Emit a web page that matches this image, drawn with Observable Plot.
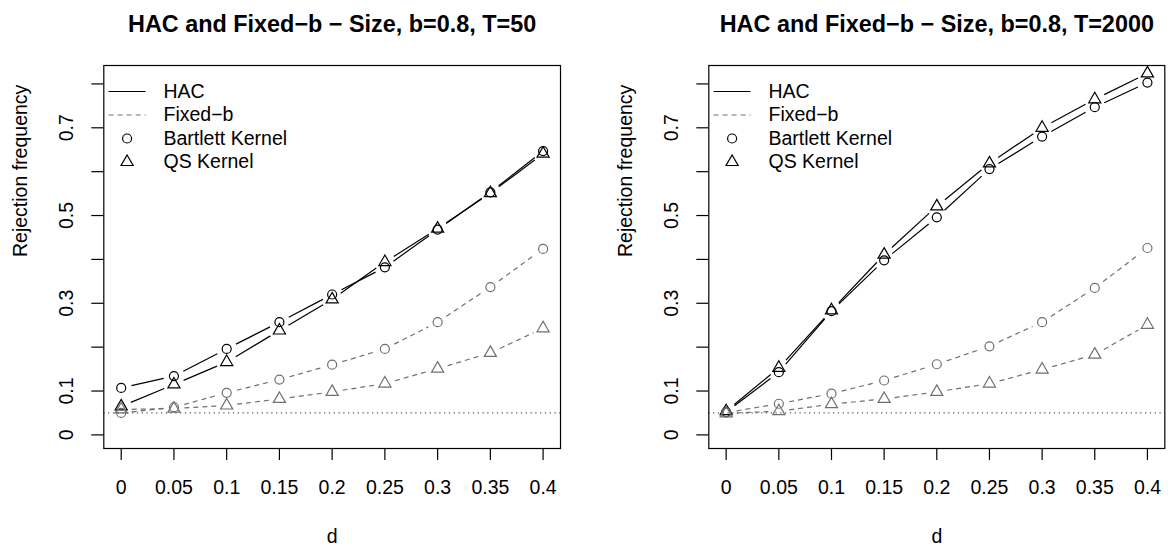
<!DOCTYPE html>
<html>
<head>
<meta charset="utf-8">
<script src="https://cdn.jsdelivr.net/npm/d3@7"></script>
<script src="https://cdn.jsdelivr.net/npm/@observablehq/plot@0.6"></script>
<style>
  html, body { margin: 0; padding: 0; background: #fff; overflow: hidden; }
  #wrap { position: relative; width: 1168px; height: 545px; }
  .panel { position: absolute; top: 0; }
</style>
</head>
<body>
<div id="wrap"></div>
<script>
// ---- Data ----
const dValues = [0, 0.05, 0.1, 0.15, 0.2, 0.25, 0.3, 0.35, 0.4];

// T = 50
const hacBartlett50   = [0.107, 0.134, 0.196, 0.257, 0.320, 0.382, 0.468, 0.553, 0.647];
const hacQS50         = [0.065, 0.115, 0.166, 0.238, 0.309, 0.394, 0.470, 0.551, 0.641];
const fixedBartlett50 = [0.050, 0.063, 0.096, 0.126, 0.160, 0.196, 0.257, 0.337, 0.424];
const fixedQS50       = [0.058, 0.060, 0.067, 0.082, 0.098, 0.117, 0.151, 0.187, 0.243];

// T = 2000
const hacBartlett2000   = [0.052, 0.143, 0.282, 0.398, 0.496, 0.606, 0.680, 0.747, 0.803];
const hacQS2000         = [0.054, 0.153, 0.284, 0.411, 0.521, 0.619, 0.700, 0.765, 0.824];
const fixedBartlett2000 = [0.051, 0.071, 0.094, 0.124, 0.161, 0.202, 0.257, 0.335, 0.426];
const fixedQS2000       = [0.049, 0.054, 0.070, 0.082, 0.098, 0.117, 0.149, 0.183, 0.251];

const nominalLevel = [0.05];

const xTicks = [0, 0.05, 0.1, 0.15, 0.2, 0.25, 0.3, 0.35, 0.4];
const yTicks = [0, 0.1, 0.2, 0.3, 0.4, 0.5, 0.6, 0.7, 0.8];
const yTickLabels = [0, 0.1, 0.3, 0.5, 0.7];

const titles = [
  "HAC and Fixed\u2212b \u2212 Size, b=0.8, T=50",
  "HAC and Fixed\u2212b \u2212 Size, b=0.8, T=2000"
];
const xLabel = "d";
const yLabel = "Rejection frequency";
const legendLabels = ["HAC", "Fixed\u2212b", "Bartlett Kernel", "QS Kernel"];

// ---- Styling ----
const FONT = '"Liberation Sans", Arial, Helvetica, sans-serif';
const FS = 19.5;
const hacColor = "#000000";
const fixedColor = "#6f6f6f";
const dash = "5,4";

const lineSymbol = { draw(ctx) { ctx.moveTo(-18.5, 0); ctx.lineTo(18.5, 0); } };

function makePanel(title, hacB, hacQ, fixB, fixQ, width, marginRight) {
  const series = [
    { values: hacB, symbol: "circle",   color: hacColor,   dash: undefined },
    { values: hacQ, symbol: "triangle", color: hacColor,   dash: undefined },
    { values: fixB, symbol: "circle",   color: fixedColor, dash: dash },
    { values: fixQ, symbol: "triangle", color: fixedColor, dash: dash }
  ];
  const marks = [];
  for (const s of series) {
    const pts = dValues.map((d, i) => ({ d, v: s.values[i] }));
    const segs = pts.slice(1).map((p, i) => ({ x1: pts[i].d, y1: pts[i].v, x2: p.d, y2: p.v }));
    marks.push(Plot.arrow(segs, {
      x1: "x1", y1: "y1", x2: "x2", y2: "y2",
      bend: 0, headLength: 0, insetStart: 10.5, insetEnd: 10.5,
      stroke: s.color, strokeWidth: 1.2, strokeDasharray: s.dash, strokeLinecap: "butt"
    }));
    marks.push(Plot.dot(pts, {
      x: "d", y: "v", symbol: s.symbol, r: 4.5,
      stroke: s.color, strokeWidth: 1.2, fill: "none"
    }));
  }
  marks.push(Plot.ruleY(nominalLevel, { stroke: "#555", strokeWidth: 1.2, strokeDasharray: "1.2,3.6" }));

  // legend
  const rowDy = [26, 49.5, 73, 96.5];
  const legendSpecs = [
    { symbol: lineSymbol, color: hacColor, dash: undefined },
    { symbol: lineSymbol, color: fixedColor, dash: dash },
    { symbol: "circle", color: hacColor, dash: undefined },
    { symbol: "triangle", color: hacColor, dash: undefined }
  ];
  legendSpecs.forEach((s, i) => {
    marks.push(Plot.dot([legendLabels[i]], {
      frameAnchor: "top-left", dx: 23.3, dy: rowDy[i], symbol: s.symbol, r: 4.5,
      stroke: s.color, strokeWidth: 1.2, fill: "none", strokeDasharray: s.dash
    }));
    marks.push(Plot.text([legendLabels[i]], {
      frameAnchor: "top-left", dx: 59.7, dy: rowDy[i], text: d => d,
      textAnchor: "start", lineAnchor: "middle", fontSize: FS, fill: "black"
    }));
  });

  marks.push(Plot.frame({ stroke: "black", strokeWidth: 1.2 }));
  marks.push(Plot.axisX({
    ticks: xTicks, tickSize: 12, tickPadding: 20, strokeWidth: 1.2,
    tickFormat: d => String(d), label: null, fontSize: FS
  }));
  marks.push(Plot.axisY({
    ticks: yTicks, tickSize: 12, tickPadding: 19, strokeWidth: 1.2,
    tickRotate: -90, textAnchor: "middle", lineAnchor: "bottom",
    tickFormat: d => (yTickLabels.includes(d) ? String(d) : ""), label: null, fontSize: FS
  }));
  marks.push(Plot.text([title], {
    frameAnchor: "top", dy: -34, text: d => d, lineAnchor: "bottom",
    fontSize: 23.4, fontWeight: "bold", fill: "black"
  }));
  marks.push(Plot.text([xLabel], {
    frameAnchor: "bottom", dy: 94, text: d => d, lineAnchor: "bottom", fontSize: FS, fill: "black"
  }));
  marks.push(Plot.text([yLabel], {
    frameAnchor: "left", dx: -77, rotate: -90, text: d => d, lineAnchor: "bottom", fontSize: FS, fill: "black"
  }));

  return Plot.plot({
    width, height: 545,
    marginLeft: 103.3, marginRight, marginTop: 65, marginBottom: 97,
    x: { domain: [-0.0165, 0.4165] },
    y: { domain: [-0.031, 0.842] },
    style: { fontFamily: FONT, fontSize: FS + "px", background: "white", color: "black" },
    marks
  });
}

const wrap = document.getElementById("wrap");
const left = document.createElement("div");
left.className = "panel"; left.style.left = "0px";
left.appendChild(makePanel(titles[0], hacBartlett50, hacQS50, fixedBartlett50, fixedQS50, 584, 24));
const right = document.createElement("div");
right.className = "panel"; right.style.left = "605px";
right.appendChild(makePanel(titles[1], hacBartlett2000, hacQS2000, fixedBartlett2000, fixedQS2000, 563, 3.7));
wrap.appendChild(left);
wrap.appendChild(right);
</script>
</body>
</html>
